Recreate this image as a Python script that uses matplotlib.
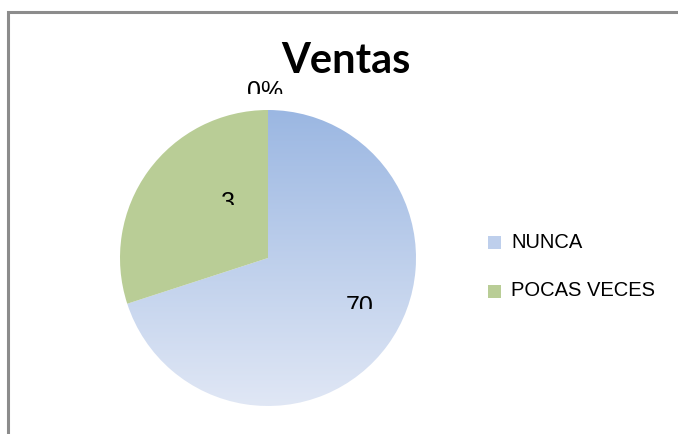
import numpy as np
import matplotlib.pyplot as plt
from matplotlib.transforms import Bbox
from matplotlib.patches import Rectangle

# data
categories = ['NUNCA', 'POCAS VECES']
values = [70, 30]
value_labels = ['70', '3']
top_label = '0%'

plt.rcParams['font.family'] = ['Liberation Sans', 'DejaVu Sans']

fig = plt.figure(figsize=(6.78, 4.34), dpi=100)
ax = fig.add_axes([0, 0, 1, 1])

H = 434
cx, cy, r = 268, H - 258, 148

# chart border (gray frame, cut by figure right/bottom)
ax.add_patch(Rectangle((8, -10), 700, H - 12 + 10, fill=False,
                       edgecolor='#8c8c8c', linewidth=2.2))

wedges, _ = ax.pie(values, startangle=90, counterclock=False,
                   colors=['none', '#b9cd96'], radius=r, center=(cx, cy),
                   wedgeprops=dict(linewidth=0), frame=True)
ax.set_xlim(0, 678)
ax.set_ylim(0, 434)
ax.set_aspect('auto')
ax.axis('off')

# vertical gradient for the blue slice
grad = np.linspace(0, 1, 256)[:, None]
top_c = np.array([155, 183, 226]) / 255
bot_c = np.array([224, 231, 245]) / 255
img = top_c[None, None, :] * (1 - grad[:, :, None]) + bot_c[None, None, :] * grad[:, :, None]
img = np.repeat(img, 2, axis=1)
im = ax.imshow(img, extent=(cx - r, cx + r, cy - r, cy + r), origin='upper',
               aspect='auto', zorder=1)
im.set_clip_path(wedges[0])
wedges[1].set_zorder(2)

# data labels, cut off in the original image (only the upper part shows)
def clipped_text(x, y, s, y_cut):
    t = ax.text(x, H - y, s, ha='left', va='top', fontsize=18, color='black', zorder=5)
    t.set_clip_box(Bbox([[0, H - y_cut], [678, H]]))
    t.set_clip_on(True)

clipped_text(247, 80, top_label, 94)
clipped_text(221, 191, value_labels[1], 205)
clipped_text(346, 295, value_labels[0], 309)

ax.text(346, H - 73, 'Ventas', ha='center', va='baseline', fontsize=30,
        fontweight='bold', family=['Lato', 'DejaVu Sans'], zorder=5)

# legend
leg_y = [242, 291]
leg_colors = [top_c * 0.5 + bot_c * 0.5, np.array([185, 205, 150]) / 255]
for name, yy, col in zip(categories, leg_y, leg_colors):
    ax.add_patch(Rectangle((488, H - yy - 6.5), 13, 13, facecolor=col, edgecolor='none'))
    ax.text(511, H - yy, name, ha='left', va='center', fontsize=14.5)

fig.savefig('out.png', dpi=100)
